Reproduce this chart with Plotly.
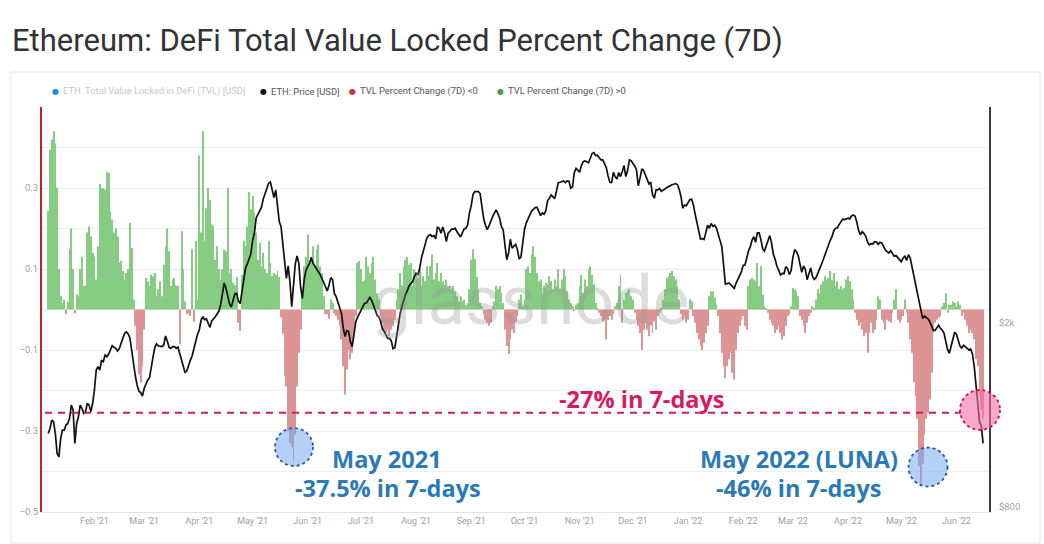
import pandas as pd
import plotly.graph_objects as go

# ---------------- data ----------------
segment_starts = ["2021-01-06", "2021-05-15", "2021-09-25", "2022-02-02"]

tvl_chg_1 = [0.243, 0.395, 0.42, 0.44, 0.41, 0.30, 0.10, 0.033, 0.016, 0.025,
             -0.012, 0.02, 0.15, 0.20, 0.10, -0.01, 0.037, 0.033, 0.10, 0.13,
             0.058, 0.06, 0.19, 0.205, 0.18, 0.14, 0.13, 0.074, 0.156, 0.31,
             0.30, 0.30, 0.296, 0.34, 0.337, 0.243, 0.222, 0.19, 0.20, 0.18,
             0.115, 0.12, 0.095, 0.074, 0.09, 0.10, 0.214, 0.152, 0.025, -0.04,
             -0.10, -0.16, -0.18, -0.14, -0.05, 0.078, 0.07, 0.058, 0.086, 0.082,
             0.09, 0.033, 0.05, 0.07, 0.033, 0.11, 0.156, 0.20, 0.144, 0.058,
             0.074, 0.078, 0.06, 0.058, -0.086, 0.193, 0.10, 0.02, -0.012, -0.01,
             -0.016, 0.15, -0.03, 0.17, 0.025, 0.38, 0.19, 0.44, 0.17, 0.25,
             0.30, 0.27, 0.21, 0.205, 0.123, 0.156, 0.10, 0.074, 0.10, 0.148,
             0.144, 0.30, 0.09, 0.10, 0.066, 0.06, 0.08, -0.033, -0.053, 0.086,
             0.17, 0.156, 0.205, 0.29, 0.247, 0.28, 0.24, 0.19, 0.123, 0.165,
             0.107, 0.14, 0.10, 0.09, 0.17, 0.115, 0.082, 0.09, 0.086]

tvl_chg_2 = [0.095, 0.08, -0.02, -0.06, -0.165, -0.19, -0.30, -0.33, -0.34, -0.375,
             -0.31, -0.19, -0.107, -0.05, 0.04, 0.107, 0.13, 0.185, 0.115, 0.13,
             0.156, 0.107, 0.148, 0.16, 0.107, 0.09, 0.033, -0.012, -0.012, -0.023,
             0.025, 0.016, -0.01, -0.016, -0.025, -0.04, -0.074, -0.14, -0.21, -0.148,
             -0.10, -0.123, -0.107, -0.058, -0.016, 0.115, 0.12, 0.10, 0.07, 0.074,
             0.13, 0.107, 0.09, 0.115, 0.13, 0.074, 0.04, 0.025, -0.016, -0.033,
             -0.05, -0.058, -0.05, -0.066, -0.05, -0.04, -0.025, 0.025, 0.05, 0.09,
             0.06, 0.107, 0.123, 0.13, 0.11, 0.115, 0.058, 0.10, 0.09, 0.078,
             0.10, 0.058, 0.082, 0.07, 0.107, 0.082, 0.107, 0.136, 0.074, 0.09,
             0.115, 0.07, 0.09, 0.07, 0.062, 0.074, 0.058, 0.058, 0.05, 0.058,
             0.045, 0.033, 0.02, 0.033, 0.02, 0.025, 0.012, 0.016, 0.05, 0.123,
             0.148, 0.125, 0.08, 0.05, 0.016, 0.008, -0.012, -0.025, -0.033, -0.04,
             -0.033, 0.008, 0.02, 0.058, 0.05, 0.058, 0.04, 0.016, -0.05, -0.09,
             -0.11, -0.074, -0.05]

tvl_chg_3 = [-0.058, -0.03, -0.016, 0.025, 0.037, 0.008, 0.025, 0.10, 0.107, 0.09,
             0.136, 0.156, 0.13, 0.09, 0.07, 0.074, 0.04, 0.058, 0.066, 0.062,
             0.082, 0.07, 0.05, 0.074, 0.058, 0.10, 0.05, 0.074, 0.10, 0.082,
             0.045, 0.025, 0.016, 0.008, -0.004, 0.012, 0.016, 0.058, 0.086, 0.04,
             0.074, 0.058, 0.10, 0.107, 0.086, 0.062, 0.016, 0.004, -0.008, -0.016,
             -0.029, -0.025, -0.074, -0.025, -0.016, -0.025, -0.012, 0.008, 0.016, 0.058,
             0.086, -0.033, 0.025, 0.04, 0.045, 0.05, 0.033, 0.025, -0.008, -0.025,
             -0.04, -0.058, -0.10, -0.05, -0.033, -0.05, -0.066, -0.04, -0.058, -0.029,
             -0.05, -0.016, -0.008, 0.004, 0.025, 0.05, 0.078, 0.082, 0.09, 0.095,
             0.082, 0.074, 0.058, 0.025, -0.012, -0.025, -0.016, -0.033, -0.025, 0.025,
             0.02, -0.016, -0.033, -0.058, -0.074, -0.09, -0.10, -0.082, -0.058, -0.04,
             0.033, 0.045, 0.045, 0.029, 0.012, -0.016, -0.058, -0.107, -0.14, -0.17,
             -0.14, -0.123, -0.107, -0.156, -0.173, -0.10, -0.058, -0.04, -0.025, -0.016]

tvl_chg_4 = [-0.04, -0.05, 0.058, 0.074, 0.078, 0.074, 0.07, 0.115, 0.058, 0.107,
             0.037, 0.008, 0.004, -0.008, -0.025, -0.033, -0.04, -0.058, -0.05, -0.04,
             -0.058, -0.074, -0.066, -0.04, -0.016, -0.012, 0.008, 0.053, 0.05, 0.045,
             0.033, -0.016, -0.025, -0.04, -0.058, -0.033, -0.016, -0.008, 0.008, 0.004,
             0.025, 0.05, 0.04, 0.062, 0.07, 0.082, 0.074, 0.078, 0.095, 0.074,
             0.09, 0.058, 0.07, 0.05, 0.058, 0.05, 0.053, 0.074, 0.082, 0.07,
             0.05, 0.025, -0.008, -0.025, -0.04, -0.033, -0.05, -0.066, -0.058, -0.107,
             -0.058, -0.033, -0.058, -0.05, -0.025, 0.033, 0.025, -0.025, -0.033, -0.05,
             -0.025, -0.029, -0.033, -0.008, 0.025, 0.05, -0.025, -0.033, -0.025, -0.016,
             0.025, -0.008, -0.033, -0.074, -0.107, -0.18, -0.214, -0.27, -0.387, -0.43,
             -0.38, -0.31, -0.27, -0.255, -0.222, -0.156, -0.058, -0.033, -0.025, -0.02,
             -0.016, 0.008, 0.016, 0.04, -0.008, 0.012, 0.012, 0.02, 0.016, 0.008,
             0.02, 0.012, -0.016, -0.008, -0.025, -0.04, -0.058, -0.05, -0.058, -0.074,
             -0.123, -0.14, -0.214, -0.247, -0.27]

eth_price_1 = [1154, 1183, 1233, 1223, 1154, 1044, 1027, 1126, 1173, 1173,
               1203, 1213, 1244, 1329, 1297, 1098, 1213, 1254, 1329, 1308,
               1275, 1286, 1341, 1329, 1286, 1341, 1433, 1582, 1609, 1582,
               1663, 1650, 1705, 1691, 1714, 1754, 1787, 1772, 1763, 1740,
               1760, 1808, 1856, 1900, 1913, 1894, 1855, 1734, 1609, 1538,
               1469, 1426, 1414, 1390, 1445, 1479, 1506, 1523, 1617, 1691,
               1772, 1802, 1784, 1784, 1778, 1793, 1875, 1829, 1772, 1763,
               1778, 1778, 1763, 1775, 1714, 1678, 1614, 1562, 1577, 1631,
               1663, 1699, 1763, 1826, 1891, 1932, 2030, 2064, 2034, 2041,
               1989, 1957, 2020, 2037, 2064, 2092, 2123, 2188, 2311, 2441,
               2381, 2300, 2202, 2166, 2239, 2311, 2319, 2235, 2202, 2327,
               2498, 2626, 2683, 2746, 2821, 3015, 3127, 3375, 3438, 3513,
               3560, 3710, 3804, 3913, 4012, 4039, 3901, 3735, 3881]

eth_price_2 = [3601, 3314, 3232, 2975, 2670, 2498, 2657, 2457, 2170, 2457,
               2683, 2793, 2692, 2397, 2261, 2478, 2596, 2648, 2692, 2770,
               2692, 2657, 2617, 2596, 2545, 2498, 2441, 2377, 2346, 2417,
               2507, 2482, 2318, 2280, 2217, 2163, 2099, 1951, 1869, 1925,
               1919, 1823, 1778, 1884, 2007, 2057, 2095, 2134, 2170, 2206,
               2210, 2250, 2273, 2239, 2195, 2134, 2078, 2064, 2017, 1944,
               1919, 1887, 1853, 1853, 1832, 1760, 1769, 1866, 1980, 2095,
               2170, 2250, 2303, 2346, 2405, 2433, 2457, 2519, 2561, 2545,
               2626, 2765, 2868, 2945, 3050, 3091, 3106, 3075, 3091, 3040,
               3221, 3206, 3127, 3227, 3137, 3000, 3127, 3158, 3195, 3190,
               3206, 3150, 3117, 3070, 3132, 3195, 3206, 3260, 3460, 3589,
               3791, 3849, 3849, 3849, 3811, 3571, 3364, 3254, 3185, 3243,
               3331, 3392, 3455, 3513, 3449, 3370, 3232, 3180, 2945, 2741,
               2830, 3035, 2905]

eth_price_3 = [2941, 2960, 2878, 2751, 2779, 3025, 3190, 3293, 3359, 3443,
               3495, 3524, 3554, 3560, 3489, 3415, 3460, 3438, 3501, 3680,
               3723, 3785, 3748, 3717, 3868, 4025, 4032, 4045, 4059, 4025,
               4059, 4052, 3913, 3939, 4230, 4323, 4280, 4238, 4381, 4469,
               4484, 4462, 4447, 4544, 4651, 4674, 4606, 4613, 4551, 4506,
               4506, 4425, 4337, 4161, 4032, 4025, 4238, 4140, 4099, 4230,
               4147, 4253, 4381, 4147, 4273, 4506, 4491, 4425, 4374, 4288,
               3959, 4120, 4309, 4273, 4189, 4079, 3998, 4032, 3791, 3723,
               3880, 3880, 3907, 3855, 3880, 3887, 3913, 3945, 3959, 3985,
               3992, 4005, 3985, 3894, 3760, 3542, 3601, 3583, 3643, 3698,
               3704, 3601, 3438, 3293, 3132, 3040, 3045, 3030, 3137, 3254,
               3206, 3283, 3238, 3254, 3206, 3106, 3035, 2926, 2670, 2429,
               2433, 2441, 2421, 2397, 2377, 2437, 2482, 2545, 2579, 2666]

eth_price_4 = [2670, 2761, 2863, 2921, 3020, 3075, 2990, 3132, 3132, 3030,
               2892, 2863, 2941, 3030, 3091, 2975, 2816, 2746, 2653, 2604,
               2540, 2561, 2557, 2648, 2622, 2545, 2596, 2775, 2882, 2854,
               2798, 2680, 2574, 2657, 2609, 2482, 2570, 2631, 2524, 2486,
               2507, 2557, 2626, 2675, 2738, 2811, 2868, 2960, 3020, 3075,
               3168, 3206, 3211, 3265, 3303, 3353, 3347, 3359, 3370, 3359,
               3409, 3426, 3403, 3298, 3168, 3101, 3153, 3122, 3080, 2995,
               2950, 2970, 2965, 3000, 2995, 2960, 2990, 2980, 2931, 2878,
               2854, 2835, 2868, 2821, 2788, 2798, 2765, 2738, 2715, 2765,
               2788, 2733, 2811, 2765, 2648, 2557, 2466, 2338, 2224, 2127,
               2044, 2071, 2057, 2041, 2014, 1974, 1928, 1928, 1960, 1980,
               1948, 1931, 1903, 1823, 1754, 1720, 1784, 1844, 1910, 1891,
               1826, 1784, 1766, 1790, 1778, 1763, 1749, 1758, 1717, 1614,
               1471, 1341, 1223, 1199, 1098]

left_tick_vals = [-0.5, -0.3, -0.1, 0.1, 0.3]
left_grid_vals = [-0.4, -0.2, 0.0, 0.2, 0.4, 0.5]
right_tick_vals = [800, 2000]
right_tick_text = ["$800", "$2k"]

# ---------------- assemble daily series ----------------
tvl_segments = [tvl_chg_1, tvl_chg_2, tvl_chg_3, tvl_chg_4]
price_segments = [eth_price_1, eth_price_2, eth_price_3, eth_price_4]
dates, tvl, price = [], [], []
for start, t_seg, p_seg in zip(segment_starts, tvl_segments, price_segments):
    d = pd.date_range(start, periods=len(t_seg), freq="D")
    dates.extend(d)
    tvl.extend(t_seg)
    price.extend(p_seg)

pos = [v if v >= 0 else None for v in tvl]
neg = [v if v < 0 else None for v in tvl]

# ---------------- geometry helpers (pixel -> paper) ----------------
W, H = 1044, 544
ML, MR, MT, MB = 42, 55, 107, 32
PW, PH = W - ML - MR, H - MT - MB


def px(x):
    return (x - ML) / PW


def py(y):
    return (H - MB - y) / PH


GREEN = "#86cc83"
RED = "#dc9494"
CRIMSON = "#d81b60"
BLUE_TXT = "#2a7ab8"
TICK_FONT = dict(family="Roboto, Arial, sans-serif", size=9, color="#a0a0a0")
YTICK_FONT = dict(family="Roboto, Arial, sans-serif", size=9.5, color="#a0a0a0")

fig = go.Figure()
fig.add_bar(x=dates, y=pos, name="TVL Percent Change (7D) >0",
            marker=dict(color=GREEN, line=dict(width=0)), showlegend=False)
fig.add_bar(x=dates, y=neg, name="TVL Percent Change (7D) <0",
            marker=dict(color=RED, line=dict(width=0)), showlegend=False)
fig.add_scatter(x=dates, y=price, name="ETH: Price [USD]", yaxis="y2", mode="lines",
                line=dict(color="#111111", width=1.7), showlegend=False)

shapes = []
# outer panel border
shapes.append(dict(type="rect", xref="paper", yref="paper", layer="below",
                   x0=px(11), x1=px(1040), y0=py(543), y1=py(72),
                   line=dict(color="#e6e6e6", width=1), fillcolor="rgba(0,0,0,0)"))
# -27% threshold line
shapes.append(dict(type="line", xref="paper", yref="y", x0=px(45), x1=px(961),
                   y0=-0.255, y1=-0.255, line=dict(color=CRIMSON, width=2, dash="7px,6px")))


def circle(cx, cy, r, fill, edge):
    return dict(type="circle", xref="paper", yref="paper", xsizemode="pixel", ysizemode="pixel",
                xanchor=px(cx), yanchor=py(cy), x0=-r, x1=r, y0=-r, y1=r,
                fillcolor=fill, line=dict(color=edge, width=1.8, dash="dot"))


shapes.append(circle(294, 447, 19, "rgba(120,170,240,0.55)", "#2a5a9a"))
shapes.append(circle(928, 467, 19.5, "rgba(120,170,240,0.55)", "#2a5a9a"))
shapes.append(circle(980, 410, 20, "rgba(244,110,165,0.6)", "#c2185b"))

annotations = []
# watermark
annotations.append(dict(text="glassnode", xref="paper", yref="paper", x=px(530), y=py(300),
                        xanchor="center", yanchor="middle", showarrow=False,
                        font=dict(family="Roboto, Arial, sans-serif", size=69,
                                  color="rgba(150,150,150,0.33)")))
# legend (dots + labels)
legend_items = [
    (55, "#1e88e5", "ETH: Total Value Locked in DeFi (TVL) [USD]", "#c8c8c8"),
    (263, "#111111", "ETH: Price [USD]", "#555555"),
    (352, "#d32f2f", "TVL Percent Change (7D) <0", "#555555"),
    (500, "#43a047", "TVL Percent Change (7D) >0", "#555555"),
]
for x0, dot_col, label, txt_col in legend_items:
    annotations.append(dict(text="●", xref="paper", yref="paper", x=px(x0), y=py(91),
                            xanchor="center", yanchor="middle", showarrow=False,
                            font=dict(family="DejaVu Sans", size=8, color=dot_col)))
    annotations.append(dict(text=label, xref="paper", yref="paper", x=px(x0 + 6), y=py(91),
                            xanchor="left", yanchor="middle", showarrow=False,
                            font=dict(family="Roboto, Arial, sans-serif", size=9.4, color=txt_col)))

ANN_FONT = "Open Sans, Arial, sans-serif"
ANN_SIZE = 23.5
callouts = [
    ("<b>-27% in 7-days</b>", 642, 399, CRIMSON),
    ("<b>May 2021</b>", 387, 459, BLUE_TXT),
    ("<b>-37.5% in 7-days</b>", 388, 488, BLUE_TXT),
    ("<b>May 2022 (LUNA)</b>", 799, 459, BLUE_TXT),
    ("<b>-46% in 7-days</b>", 799, 488, BLUE_TXT),
]
for text, cx, cy, col in callouts:
    annotations.append(dict(text=text, xref="paper", yref="paper", x=px(cx), y=py(cy),
                            xanchor="center", yanchor="middle", showarrow=False,
                            font=dict(family=ANN_FONT, size=ANN_SIZE, color=col)))

fig.update_layout(
    width=W, height=H,
    margin=dict(l=ML, r=MR, t=MT, b=MB, pad=0),
    paper_bgcolor="white", plot_bgcolor="white",
    barmode="overlay", bargap=0.45,
    showlegend=False,
    title=dict(text="Ethereum: DeFi Total Value Locked Percent Change (7D)",
               xref="container", yref="container", x=12 / W, xanchor="left",
               y=1 - 40 / H, yanchor="middle",
               font=dict(family="Roboto, Arial, sans-serif", size=31, color="#333333")),
    xaxis=dict(type="date", range=["2021-01-02 12:00", "2022-06-19 08:00"],
               tick0="2021-02-01", dtick="M1", tickformat="%b '%y",
               showgrid=False, zeroline=False, showline=True, linecolor="#e3e3e3", linewidth=1,
               ticks="", tickfont=TICK_FONT),
    yaxis=dict(range=[-0.5, 0.5], tickvals=left_tick_vals, tickformat=".1f",
               showgrid=True, gridcolor="#eeeeee", gridwidth=1, zeroline=False,
               showline=True, linecolor="#b3282d", linewidth=2, ticks="",
               tickfont=YTICK_FONT,
               minor=dict(tickvals=left_grid_vals, showgrid=True, gridcolor="#eeeeee", ticks="")),
    yaxis2=dict(type="log", range=[2.8923, 3.7682], overlaying="y", side="right",
                tickvals=right_tick_vals, ticktext=right_tick_text, showgrid=False,
                zeroline=False, showline=True, linecolor="#3a3a3a", linewidth=2, ticks="",
                ticklabelstandoff=6, tickfont=YTICK_FONT),
    shapes=shapes, annotations=annotations,
)

fig.write_html("out.html")
